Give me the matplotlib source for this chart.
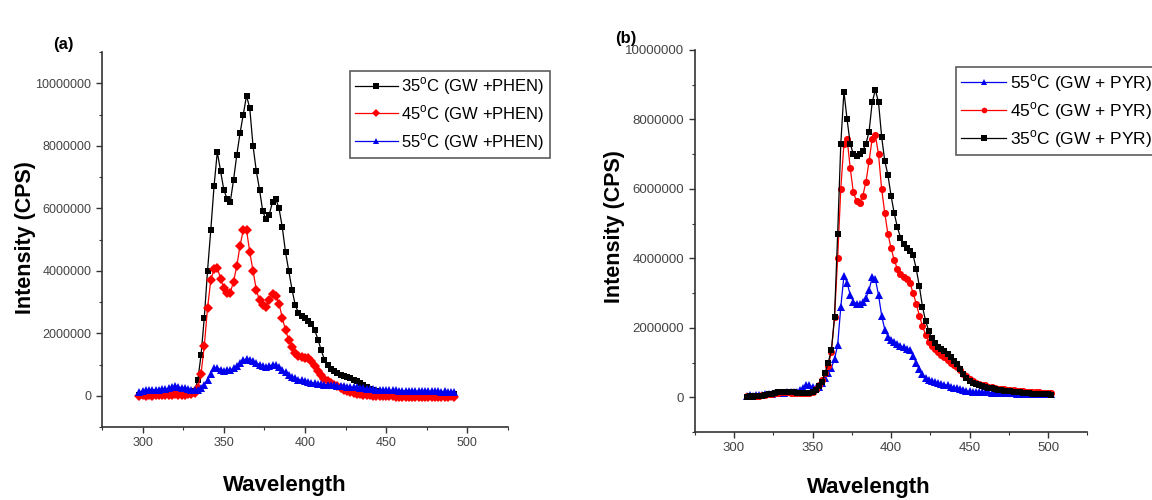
import numpy as np
import matplotlib
matplotlib.use("Agg")
import matplotlib.pyplot as plt
from matplotlib.ticker import MultipleLocator, FuncFormatter

plt.rcParams['font.family'] = ['Liberation Sans', 'DejaVu Sans']
plt.rcParams['mathtext.fontset'] = 'custom'
plt.rcParams['mathtext.rm'] = 'Liberation Sans'

# ---------------- data (intensities in millions of CPS) ----------------
wl_a = np.arange(298, 493, 2)
phen_35 = [0.04,0.05,0.04,0.05,0.06,0.05,0.05,0.06,0.05,0.06,
           0.07,0.08,0.07,0.07,0.06,0.07,0.08,0.15,0.5,1.3,
           2.5,4.0,5.3,6.7,7.8,7.2,6.6,6.3,6.2,6.9,
           7.7,8.4,9.0,9.6,9.2,8.0,7.2,6.6,5.9,5.65,
           5.8,6.2,6.3,6.0,5.4,4.6,4.0,3.4,2.9,2.65,
           2.55,2.5,2.4,2.3,2.1,1.8,1.45,1.15,0.98,0.85,
           0.78,0.72,0.67,0.63,0.6,0.56,0.52,0.47,0.42,0.35,
           0.28,0.22,0.18,0.15,0.13,0.12,0.1,0.09,0.09,0.08,
           0.08,0.07,0.07,0.07,0.06,0.06,0.06,0.06,0.05,0.05,
           0.05,0.05,0.05,0.05,0.05,0.05,0.05,0.05]
phen_45 = [0.0,0.01,0.0,0.01,0.0,0.01,0.02,0.01,0.02,0.03,
           0.04,0.05,0.04,0.03,0.04,0.05,0.06,0.1,0.25,0.7,
           1.6,2.8,3.7,4.05,4.1,3.75,3.45,3.3,3.3,3.65,
           4.15,4.8,5.3,5.3,4.6,4.0,3.4,3.05,2.9,2.85,
           3.05,3.25,3.2,2.95,2.5,2.1,1.8,1.55,1.38,1.28,
           1.24,1.22,1.2,1.1,0.95,0.8,0.65,0.55,0.48,0.4,
           0.35,0.3,0.24,0.2,0.16,0.13,0.1,0.07,0.05,0.03,
           0.02,0.01,0.0,0.0,-0.01,-0.01,-0.02,-0.02,-0.02,-0.03,
           -0.03,-0.03,-0.03,-0.03,-0.03,-0.04,-0.03,-0.03,-0.04,-0.03,
           -0.04,-0.03,-0.03,-0.04,-0.03,-0.03,-0.02,-0.03]
phen_55 = [0.12,0.16,0.18,0.17,0.2,0.19,0.2,0.22,0.21,0.24,
           0.27,0.3,0.28,0.26,0.24,0.22,0.2,0.19,0.2,0.26,
           0.35,0.5,0.7,0.88,0.9,0.83,0.8,0.82,0.82,0.88,
           0.95,1.05,1.15,1.18,1.15,1.1,1.05,1.0,0.95,0.92,
           0.95,1.0,1.0,0.92,0.83,0.75,0.67,0.6,0.56,0.52,
           0.5,0.48,0.45,0.42,0.4,0.38,0.37,0.36,0.35,0.34,
           0.33,0.32,0.31,0.3,0.29,0.28,0.28,0.27,0.26,0.25,
           0.23,0.22,0.21,0.2,0.19,0.18,0.18,0.17,0.17,0.17,
           0.16,0.16,0.16,0.15,0.16,0.15,0.15,0.15,0.14,0.15,
           0.14,0.14,0.14,0.13,0.14,0.13,0.13,0.13]

wl_b = np.arange(308, 503, 2)
pyr_35 = [0.02,0.03,0.02,0.03,0.04,0.05,0.06,0.08,0.1,0.12,
          0.14,0.15,0.15,0.15,0.14,0.14,0.13,0.12,0.12,0.12,
          0.12,0.15,0.22,0.33,0.45,0.7,1.0,1.35,2.3,4.7,
          7.3,8.8,8.0,7.3,7.0,6.95,7.0,7.1,7.3,7.65,
          8.5,8.85,8.5,7.5,6.8,6.4,5.8,5.3,4.9,4.6,
          4.4,4.3,4.2,4.1,3.7,3.2,2.6,2.2,1.9,1.7,
          1.55,1.45,1.38,1.32,1.25,1.15,1.05,0.95,0.82,0.68,
          0.56,0.47,0.42,0.38,0.35,0.32,0.3,0.28,0.26,0.24,
          0.22,0.2,0.19,0.18,0.17,0.16,0.15,0.14,0.13,0.12,
          0.11,0.1,0.1,0.09,0.09,0.08,0.08,0.07]
pyr_45 = [0.03,0.04,0.03,0.04,0.05,0.06,0.07,0.09,0.1,0.12,
          0.13,0.14,0.14,0.14,0.13,0.13,0.12,0.12,0.11,0.12,
          0.12,0.16,0.23,0.35,0.5,0.7,0.9,1.3,2.3,4.0,
          6.0,7.3,7.45,6.6,5.9,5.65,5.6,5.8,6.2,6.8,
          7.45,7.55,7.0,6.0,5.3,4.7,4.3,3.95,3.7,3.55,
          3.45,3.4,3.3,3.0,2.7,2.35,2.05,1.8,1.6,1.48,
          1.38,1.3,1.22,1.15,1.08,1.0,0.93,0.86,0.78,0.68,
          0.6,0.52,0.46,0.42,0.38,0.36,0.34,0.31,0.29,0.27,
          0.25,0.24,0.23,0.22,0.21,0.2,0.19,0.18,0.17,0.16,
          0.15,0.15,0.14,0.14,0.13,0.13,0.12,0.12]
pyr_55 = [0.05,0.06,0.05,0.06,0.07,0.07,0.08,0.09,0.1,0.11,
          0.12,0.13,0.13,0.14,0.14,0.15,0.15,0.2,0.28,0.35,
          0.35,0.3,0.28,0.3,0.4,0.55,0.7,0.85,1.1,1.5,
          2.6,3.5,3.3,2.95,2.75,2.7,2.7,2.75,2.85,3.1,
          3.45,3.4,2.95,2.35,1.95,1.75,1.65,1.58,1.52,1.48,
          1.44,1.4,1.35,1.2,0.98,0.8,0.66,0.56,0.5,0.46,
          0.43,0.4,0.38,0.36,0.34,0.31,0.28,0.26,0.24,0.21,
          0.19,0.17,0.16,0.16,0.15,0.15,0.14,0.14,0.13,0.13,
          0.12,0.12,0.12,0.11,0.11,0.11,0.1,0.1,0.1,0.1,
          0.09,0.09,0.09,0.09,0.08,0.08,0.08,0.08]

labels_a = ["35$^{\\rm o}$C (GW +PHEN)", "45$^{\\rm o}$C (GW +PHEN)", "55$^{\\rm o}$C (GW +PHEN)"]
labels_b = ["55$^{\\rm o}$C (GW + PYR)", "45$^{\\rm o}$C (GW + PYR)", "35$^{\\rm o}$C (GW + PYR)"]
SCALE = 1e6

fig = plt.figure(figsize=(11.52, 5.0), dpi=100)
ax_a = fig.add_axes([0.0885, 0.146, 0.3525, 0.750])
ax_b = fig.add_axes([0.603, 0.136, 0.341, 0.764])

def style(ax, tsize):
    for s in ('top', 'right'):
        ax.spines[s].set_visible(False)
    for s in ('left', 'bottom'):
        ax.spines[s].set_linewidth(1.2)
        ax.spines[s].set_color('#333333')
    ax.set_xlim(275, 525)
    ax.xaxis.set_major_locator(MultipleLocator(50))
    ax.xaxis.set_minor_locator(MultipleLocator(25))
    ax.yaxis.set_minor_locator(MultipleLocator(1e6))
    ax.yaxis.set_major_formatter(FuncFormatter(lambda v, p: "%d" % round(v)))
    ax.tick_params(which='major', length=4, width=1, colors='#333333', labelsize=tsize, labelcolor='#444444')
    ax.tick_params(which='minor', length=2.5, width=0.8, colors='#333333')

ms = 4.8
# Panel (a)
ax_a.plot(wl_a, np.array(phen_35) * SCALE, color='black', marker='s', ms=ms, mew=0, lw=0.9, label=labels_a[0])
ax_a.plot(wl_a, np.array(phen_45) * SCALE, color='red', marker='D', ms=ms, mew=0, lw=0.9, label=labels_a[1])
ax_a.plot(wl_a, np.array(phen_55) * SCALE, color='#0000ee', marker='^', ms=ms + 0.6, mew=0, lw=0.9, label=labels_a[2])
style(ax_a, 9)
ax_a.set_ylim(-1e6, 1.1e7)
ax_a.set_yticks([0, 2e6, 4e6, 6e6, 8e6, 1e7])
leg = ax_a.legend(loc='upper left', bbox_to_anchor=(0.61, 0.95), fontsize=12, frameon=True,
                  fancybox=False, edgecolor='#333333', handlelength=2.6, handletextpad=0.2,
                  borderpad=0.3, labelspacing=0.35, borderaxespad=0, markerscale=0.8)
leg.get_frame().set_linewidth(1.2)

# Panel (b)
ax_b.plot(wl_b, np.array(pyr_55) * SCALE, color='#0000ee', marker='^', ms=ms + 0.6, mew=0, lw=0.9, label=labels_b[0])
ax_b.plot(wl_b, np.array(pyr_45) * SCALE, color='red', marker='o', ms=ms + 0.3, mew=0, lw=0.9, label=labels_b[1])
ax_b.plot(wl_b, np.array(pyr_35) * SCALE, color='black', marker='s', ms=ms, mew=0, lw=0.9, label=labels_b[2])
style(ax_b, 9.5)
ax_b.set_ylim(-1e6, 1e7)
ax_b.set_yticks([0, 2e6, 4e6, 6e6, 8e6, 1e7])
leg = ax_b.legend(loc='upper left', bbox_to_anchor=(0.665, 0.955), fontsize=12.5, frameon=True,
                  fancybox=False, edgecolor='#333333', handlelength=2.6, handletextpad=0.2,
                  borderpad=0.3, labelspacing=0.35, borderaxespad=0, markerscale=0.8)
leg.get_frame().set_linewidth(1.2)

# Labels
fig.text(0.022, 0.524, "Intensity (CPS)", rotation=90, ha='center', va='center', fontsize=15.5, fontweight='bold')
fig.text(0.533, 0.546, "Intensity (CPS)", rotation=90, ha='center', va='center', fontsize=15.5, fontweight='bold')
fig.text(0.247, 0.030, "Wavelength", ha='center', va='center', fontsize=16, fontweight='bold')
fig.text(0.754, 0.026, "Wavelength", ha='center', va='center', fontsize=16, fontweight='bold')
fig.text(0.055, 0.912, "(a)", ha='center', va='center', fontsize=12, fontweight='bold')
fig.text(0.543, 0.922, "(b)", ha='center', va='center', fontsize=12, fontweight='bold')

fig.savefig("out.png", dpi=100)
